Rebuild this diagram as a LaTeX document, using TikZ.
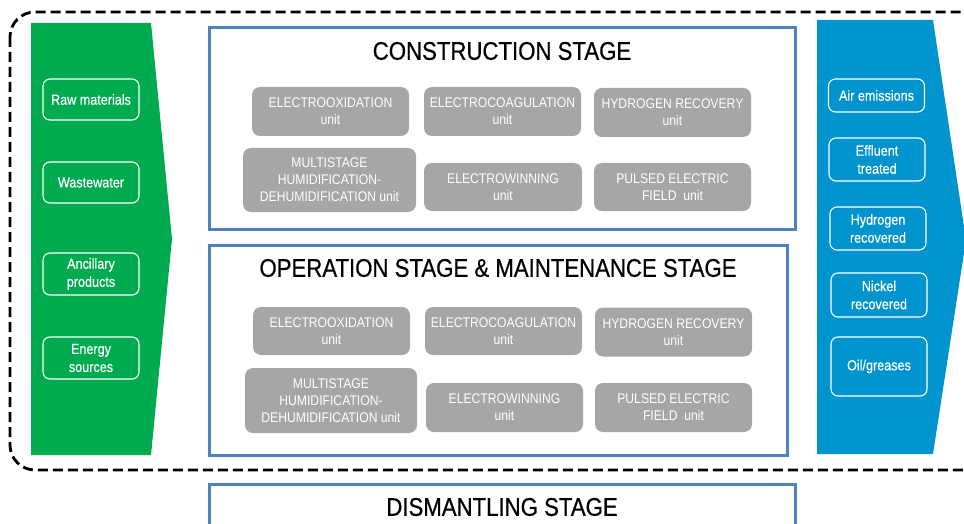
\documentclass[tikz,border=0pt]{standalone}
\usepackage{fontspec}
\setmainfont{Liberation Sans}[FakeStretch=0.87]
\newfontfamily\heavyfont{Liberation Sans}[FakeStretch=0.87, FakeBold=0.5]
\usepackage{xcolor}
\usepackage{tikz}
\definecolor{inflow}{HTML}{00AA4F}
\definecolor{outflow}{HTML}{0094CF}
\definecolor{frame}{HTML}{4F81BD}
\definecolor{unitfill}{HTML}{A6A6A6}
\tikzset{
  loop/.style={draw=black, line width=2.8pt, dash pattern=on 10pt off 5pt, rounded corners=25pt},
  stagebox/.style={draw=frame, line width=3pt, fill=white, inner sep=0pt},
  stagetitle/.style={font=\heavyfont\fontsize{25.5}{29}\selectfont, text=black, inner sep=0pt},
  unitbox/.style={
    fill=unitfill,
    rounded corners=8pt,
    inner sep=0pt,
    align=center,
    text=white,
    font=\fontsize{14}{17}\selectfont
  },
  flowbox/.style={
    draw=white,
    line width=1.1pt,
    rounded corners=7pt,
    inner sep=0pt,
    minimum width=96pt,
    align=center,
    text=white,
    font=\heavyfont\fontsize{14.5}{18}\selectfont
  }
}

\begin{document}
\begin{tikzpicture}[x=1pt, y=-1pt]
  \useasboundingbox (0,0) rectangle (964,524);

  % life cycle boundary
  \draw[loop] (10,12) rectangle (986,470);

  % inputs and outputs
  \fill[inflow] (31,23) -- (151,23) -- (172,239) -- (151,455) -- (31,455) -- cycle;
  \fill[outflow] (817,20) -- (933,20) -- (966,240) -- (933,454) -- (817,454) -- cycle;

  \node[flowbox, minimum height=41pt] (raw) at (91,99.5) {Raw materials};
  \node[flowbox, minimum height=41pt] (waste) at (91,182.5) {Wastewater};
  \node[flowbox, minimum height=42pt] (ancillary) at (91,274) {Ancillary\\products};
  \node[flowbox, minimum height=42pt] (energy) at (91,358) {Energy\\sources};

  \node[flowbox, minimum height=33pt] (air) at (876.5,95.5) {Air emissions};
  \node[flowbox, minimum height=43pt] (effluent) at (877,159.5) {Effluent\\treated};
  \node[flowbox, minimum height=43pt] (hydrogen) at (878,228.5) {Hydrogen\\recovered};
  \node[flowbox, minimum height=44pt] (nickel) at (879,295) {Nickel\\recovered};
  \node[flowbox, minimum height=59pt] (oil) at (879,366.5) {Oil/greases};

  % construction stage
  \node[stagebox, minimum width=586pt, minimum height=201pt] (cons) at (502,128.5) {};
  \node[stagetitle] (constitle) at (502,51) {CONSTRUCTION STAGE};
  \node[unitbox, minimum width=157pt, minimum height=49pt] (eo1) at (330.5,111.5) {ELECTROOXIDATION\\unit};
  \node[unitbox, minimum width=157pt, minimum height=49pt] (ec1) at (502.5,111.5) {ELECTROCOAGULATION\\unit};
  \node[unitbox, minimum width=157pt, minimum height=49pt] (hr1) at (672.5,112.5) {HYDROGEN RECOVERY\\unit};
  \node[unitbox, minimum width=173pt, minimum height=64pt] (ms1) at (329.5,180) {MULTISTAGE\\HUMIDIFICATION-\\DEHUMIDIFICATION unit};
  \node[unitbox, minimum width=158pt, minimum height=48pt] (ew1) at (503,187) {ELECTROWINNING\\unit};
  \node[unitbox, minimum width=157pt, minimum height=48pt] (pf1) at (672.5,187) {PULSED ELECTRIC\\FIELD\ \ unit};

  % operation and maintenance stage
  \node[stagebox, minimum width=578pt, minimum height=210pt] (oper) at (498,350) {};
  \node[stagetitle] (opertitle) at (498,268) {OPERATION STAGE \& MAINTENANCE STAGE};
  \node[unitbox, minimum width=157pt, minimum height=48pt] (eo2) at (331.5,331) {ELECTROOXIDATION\\unit};
  \node[unitbox, minimum width=157pt, minimum height=48pt] (ec2) at (503.5,331) {ELECTROCOAGULATION\\unit};
  \node[unitbox, minimum width=157pt, minimum height=49pt] (hr2) at (673.5,332) {HYDROGEN RECOVERY\\unit};
  \node[unitbox, minimum width=172pt, minimum height=65pt] (ms2) at (331,400.5) {MULTISTAGE\\HUMIDIFICATION-\\DEHUMIDIFICATION unit};
  \node[unitbox, minimum width=157pt, minimum height=49pt] (ew2) at (504.5,407.5) {ELECTROWINNING\\unit};
  \node[unitbox, minimum width=157pt, minimum height=49pt] (pf2) at (673.5,407.5) {PULSED ELECTRIC\\FIELD\ \ unit};

  % dismantling stage
  \node[stagebox, minimum width=586pt, minimum height=70pt] (dism) at (502,519) {};
  \node[stagetitle] (dismtitle) at (502,507) {DISMANTLING STAGE};
\end{tikzpicture}
\end{document}
